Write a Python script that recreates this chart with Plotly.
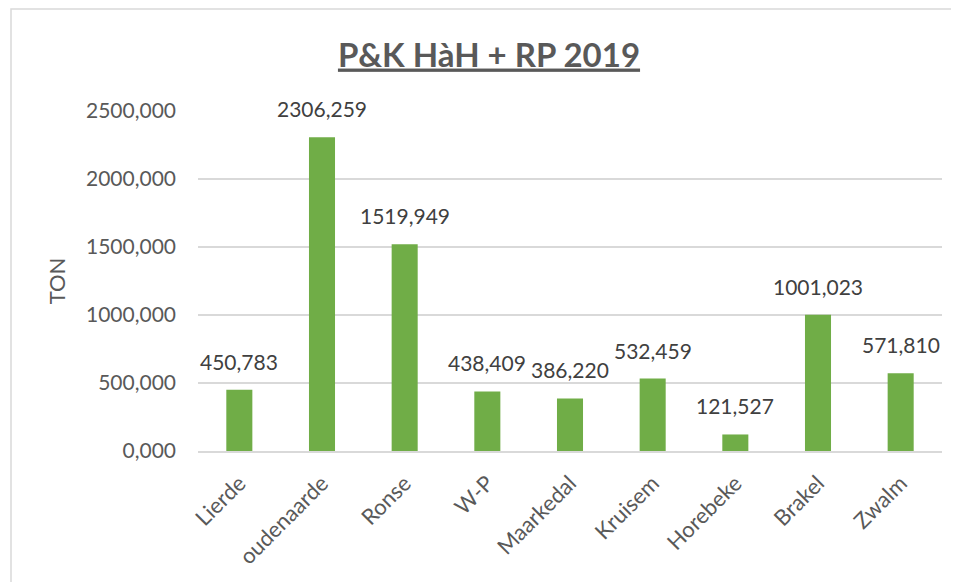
import plotly.graph_objects as go

categories = ["Lierde", "oudenaarde", "Ronse", "W-P", "Maarkedal", "Kruisem", "Horebeke", "Brakel", "Zwalm"]
values = [450.783, 2306.259, 1519.949, 438.409, 386.220, 532.459, 121.527, 1001.023, 571.810]
title_text = "P&K HàH + RP 2019"
y_title = "TON"
y_ticks = [0, 500, 1000, 1500, 2000, 2500]

FONT = "Lato"
TXT = "#595959"

labels = [f"{v:.3f}".replace(".", ",") for v in values]

# page has an 8px body margin; figure coordinates = page coordinates - 8
W, H = 951, 574
L, R, T, B = 190, 934, 103, 443  # plot area in figure coords

fig = go.Figure()
fig.add_trace(go.Bar(
    x=categories, y=values,
    marker=dict(color="#70AD47", line=dict(width=0)),
    width=0.315,
    hoverinfo="skip",
))

for c, v, t in zip(categories, values, labels):
    fig.add_annotation(x=c, y=v, text=t, showarrow=False, xref="x", yref="y",
                       yanchor="bottom", yshift=14,
                       font=dict(family=FONT, size=21, color="#404040"))

pw, ph = R - L, B - T
fig.add_shape(type="rect", xref="paper", yref="paper",
              x0=(3 - L) / pw, x1=(950 - L) / pw,
              y0=(B - 600) / ph, y1=(B - 1) / ph,
              line=dict(color="#D9D9D9", width=1.5), layer="below")

fig.update_layout(
    width=W, height=H,
    margin=dict(l=L, r=W - R, t=T, b=H - B, autoexpand=False),
    paper_bgcolor="white", plot_bgcolor="white",
    separators=",.",
    showlegend=False,
    title=dict(text="<u>" + title_text + "</u>", x=481 / W, xref="container", xanchor="center",
               y=(H - 47) / H, yref="container", yanchor="middle",
               font=dict(family=FONT, size=33, color=TXT, weight="bold")),
    font=dict(family=FONT, color=TXT),
)
fig.update_xaxes(
    type="category", tickangle=-45, showgrid=False,
    tickfont=dict(family=FONT, size=22, color=TXT),
    showline=True, linecolor="#D9D9D9", linewidth=1.5, ticks="",
    ticklabelstandoff=9,
)
fig.update_yaxes(
    range=[0, 2500], tickvals=y_ticks, tickformat=".3f",
    showgrid=True, gridcolor="#D9D9D9", gridwidth=1.5,
    zeroline=False, showline=False, ticks="",
    tickfont=dict(family=FONT, size=21, color=TXT),
    ticklabelstandoff=21,
    title=dict(text=y_title, font=dict(family=FONT, size=22, color=TXT), standoff=14),
)

fig.write_html("out.html")
